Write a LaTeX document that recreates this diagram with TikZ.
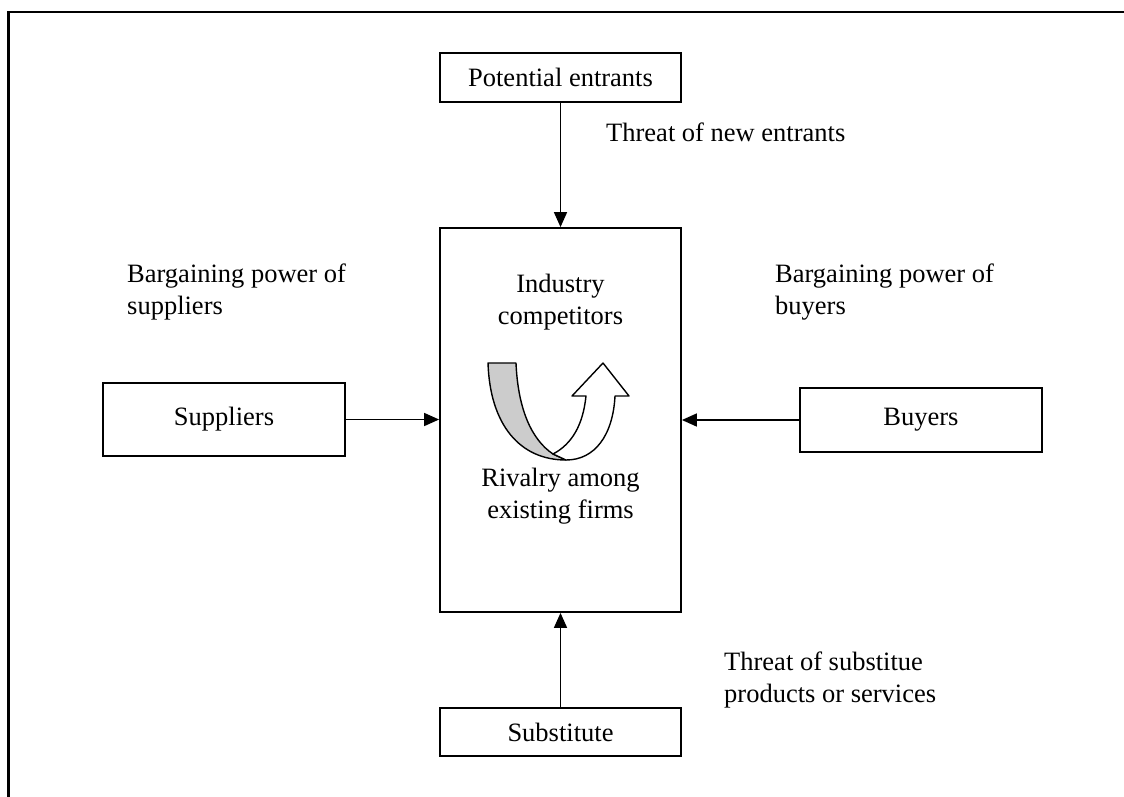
\documentclass[tikz,border=0pt]{standalone}
\usepackage{fontspec}
\setmainfont{Liberation Serif}
\usetikzlibrary{arrows.meta}
\begin{document}
\begin{tikzpicture}[x=1pt,y=-1pt,
  every node/.style={inner sep=0pt, font=\fontsize{26.5}{31.5}\selectfont},
  forcebox/.style={draw, line width=1.8pt},
  label/.style={align=left, anchor=north west},
  clabel/.style={align=center, anchor=north},
  force/.style={line width=1.6pt, -{Triangle[length=15pt,width=13pt]}},
  ribbon/.style={line width=1.4pt, line join=round}]
  \useasboundingbox (0,0) rectangle (1124,796);

  % page frame (top and left rules)
  \draw[line width=2.6pt] (1130,12) -- (8.5,12) -- (8.5,800);

  % the five forces
  \node[forcebox, minimum width=241pt, minimum height=49pt] (pe)  at (560.5,77.5) {Potential entrants};
  \node[forcebox, minimum width=241pt, minimum height=384pt] (ind) at (560.5,420) {};
  \node[forcebox, minimum width=242pt, minimum height=73pt] (sup) at (224,419.5) {Suppliers};
  \node[forcebox, minimum width=242pt, minimum height=64pt] (buy) at (921,420) {Buyers};
  \node[forcebox, minimum width=241pt, minimum height=48pt] (sub) at (560.5,732) {Substitute};

  % texts inside the industry box
  \node[clabel] (indtxt) at (560.5,274) {Industry\\competitors};
  \node[clabel] (rivtxt) at (560.5,468) {Rivalry among\\existing firms};

  % force labels
  \node[label] (newtxt) at (606,123) {Threat of new entrants};
  \node[label] (suptxt) at (127,264) {Bargaining power of\\suppliers};
  \node[label] (buytxt) at (775,264) {Bargaining power of\\buyers};
  \node[label] (subtxt) at (724,652) {Threat of substitue\\products or services};

  % connectors
  \draw[force] (pe.south) -- (ind.north);
  \draw[force] (sup.east) -- (sup.east -| ind.west);
  \draw[force] (buy.west) -- (buy.west -| ind.east);
  \draw[force] (sub.north) -- (ind.south);

  % rivalry ribbon: grey back side and white arrow front side
  \draw[ribbon, fill=gray!40]
    (488,363) -- (516,363) .. controls (518,410) and (532,440) .. (553,454)
    -- (566,460) .. controls (520,460) and (490,425) .. (488,363) -- cycle;
  \draw[ribbon, fill=white]
    (553,454) -- (566,460) .. controls (595,460) and (613,435) .. (615,396)
    -- (629,396) -- (603,363) -- (572,396) -- (586,396)
    .. controls (583,425) and (572,444) .. (553,454) -- cycle;
\end{tikzpicture}
\end{document}
